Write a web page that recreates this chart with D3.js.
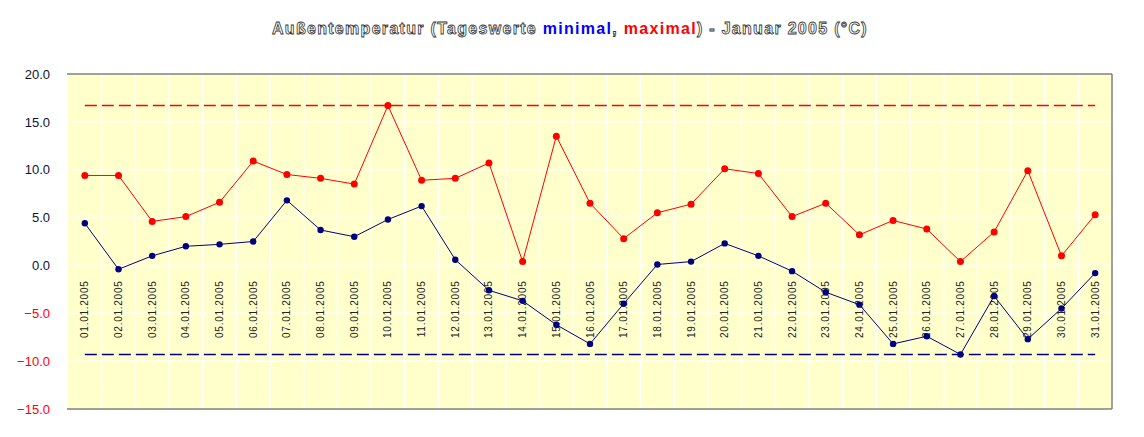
<!DOCTYPE html>
<html><head><meta charset="utf-8">
<script src="https://cdn.jsdelivr.net/npm/d3@7"></script>
<style>body{margin:0;background:#fff;}svg{display:block;font-family:Arial,"Liberation Sans",sans-serif;}</style>
</head><body><svg id="c" width="1144" height="437"></svg>
<script>
const days = ["01.01.2005","02.01.2005","03.01.2005","04.01.2005","05.01.2005","06.01.2005","07.01.2005","08.01.2005","09.01.2005","10.01.2005","11.01.2005","12.01.2005","13.01.2005","14.01.2005","15.01.2005","16.01.2005","17.01.2005","18.01.2005","19.01.2005","20.01.2005","21.01.2005","22.01.2005","23.01.2005","24.01.2005","25.01.2005","26.01.2005","27.01.2005","28.01.2005","29.01.2005","30.01.2005","31.01.2005"];
const maxVals = [9.4,9.4,4.6,5.1,6.6,10.9,9.5,9.1,8.5,16.7,8.9,9.1,10.7,0.4,13.5,6.5,2.8,5.5,6.4,10.1,9.6,5.1,6.5,3.2,4.7,3.8,0.4,3.5,9.9,1.0,5.3];
const minVals = [4.4,-0.4,1.0,2.0,2.2,2.5,6.8,3.7,3.0,4.8,6.2,0.6,-2.6,-3.7,-6.2,-8.2,-4.0,0.1,0.4,2.3,1.0,-0.6,-2.8,-4.1,-8.2,-7.4,-9.3,-3.2,-7.7,-4.5,-0.8];
const yTicks = [20,15,10,5,0,-5,-10,-15];

const svg = d3.select("#c");
const L = 68, R = 1112, T = 74, B = 409;
const x = d3.scaleBand().domain(days).range([L, R]).padding(0);
const y = d3.scaleLinear().domain([-15, 20]).range([B, T]);
const cx = d => x(d) + x.bandwidth() / 2;

// plot background
svg.append("rect").attr("x", L).attr("y", T).attr("width", R - L).attr("height", B - T).attr("fill", "#FFFFCC");

// grid
const g = svg.append("g");
g.selectAll("line.h").data(yTicks.slice(1, -1)).join("line")
  .attr("x1", L).attr("x2", R).attr("y1", d => y(d)).attr("y2", d => y(d))
  .attr("stroke", "#fff").attr("stroke-width", 1.5);
g.selectAll("line.v").data(days.slice(1)).join("line")
  .attr("x1", d => x(d)).attr("x2", d => x(d)).attr("y1", T).attr("y2", B)
  .attr("stroke", "#fff").attr("stroke-width", 1.5);

// borders
svg.append("line").attr("x1", L - 1).attr("x2", R).attr("y1", T).attr("y2", T).attr("stroke", "#808080").attr("stroke-width", 1.5);
svg.append("line").attr("x1", L - 1).attr("x2", R).attr("y1", B).attr("y2", B).attr("stroke", "#808080").attr("stroke-width", 1.5);
svg.append("line").attr("x1", R).attr("x2", R).attr("y1", T).attr("y2", B).attr("stroke", "#808080").attr("stroke-width", 1.5);

// y axis labels
const yAxis = d3.axisLeft(y).tickValues(yTicks).tickFormat(d3.format(".1f")).tickSize(0).tickPadding(0);
const ya = svg.append("g").attr("transform", `translate(50,0)`).call(yAxis);
ya.select(".domain").remove();
ya.selectAll("text").attr("font-size", 13).attr("font-family", "Arial, 'Liberation Sans', sans-serif")
  .attr("fill", d => d < 0 ? "#FF0000" : "#101030");

// x labels (rotated)
const xAxis = d3.axisBottom(x).tickSize(0).tickPadding(0);
const xa = svg.append("g").attr("transform", `translate(0,${y(0)})`).call(xAxis);
xa.select(".domain").remove();
xa.selectAll("text").attr("font-size", 10).attr("font-family", "Arial, 'Liberation Sans', sans-serif")
  .attr("fill", "#222").attr("letter-spacing", "0.75px")
  .attr("text-anchor", "end").attr("dy", "0.35em").attr("dx", 0)
  .attr("transform", "translate(0,15) rotate(-90)");

// extreme lines
const mx = d3.max(maxVals), mn = d3.min(minVals);
svg.append("line").attr("x1", cx(days[0])).attr("x2", cx(days[days.length - 1]))
  .attr("y1", y(mx)).attr("y2", y(mx)).attr("stroke", "#FF0000").attr("stroke-width", 1.5).attr("stroke-dasharray", "12,5");
svg.append("line").attr("x1", cx(days[0])).attr("x2", cx(days[days.length - 1]))
  .attr("y1", y(mn)).attr("y2", y(mn)).attr("stroke", "#000080").attr("stroke-width", 1.5).attr("stroke-dasharray", "12,5");

// series
function series(vals, color, r) {
  const line = d3.line().x((d, i) => cx(days[i])).y(d => y(d));
  svg.append("path").datum(vals).attr("d", line).attr("fill", "none").attr("stroke", color).attr("stroke-width", 1);
  svg.append("g").selectAll("circle").data(vals).join("circle")
    .attr("cx", (d, i) => cx(days[i])).attr("cy", d => y(d)).attr("r", r).attr("fill", color);
}
series(minVals, "#000080", 3.2);
series(maxVals, "#FF0000", 3.5);

// title
const title = svg.append("text").attr("x", 570).attr("y", 34).attr("text-anchor", "middle")
  .attr("font-size", 16).attr("font-weight", "bold").attr("font-family", "Arial, 'Liberation Sans', sans-serif");
const parts = [["Außentemperatur (Tageswerte ", "#fff", "#333"], ["minimal", "#0000FF", null], [", ", "#fff", "#333"], ["maximal", "#FF0000", null], [") - Januar 2005 (°C)", "#fff", "#333"]];
parts.forEach(p => {
  const t = title.append("tspan").text(p[0]).attr("fill", p[1]);
  if (p[2]) t.attr("stroke", p[2]).attr("stroke-width", 0.8);
});
const w = title.node().getComputedTextLength();
const nChars = parts.map(p => p[0]).join("").length;
title.attr("letter-spacing", ((596 - w) / nChars) + "px");
</script></body></html>
